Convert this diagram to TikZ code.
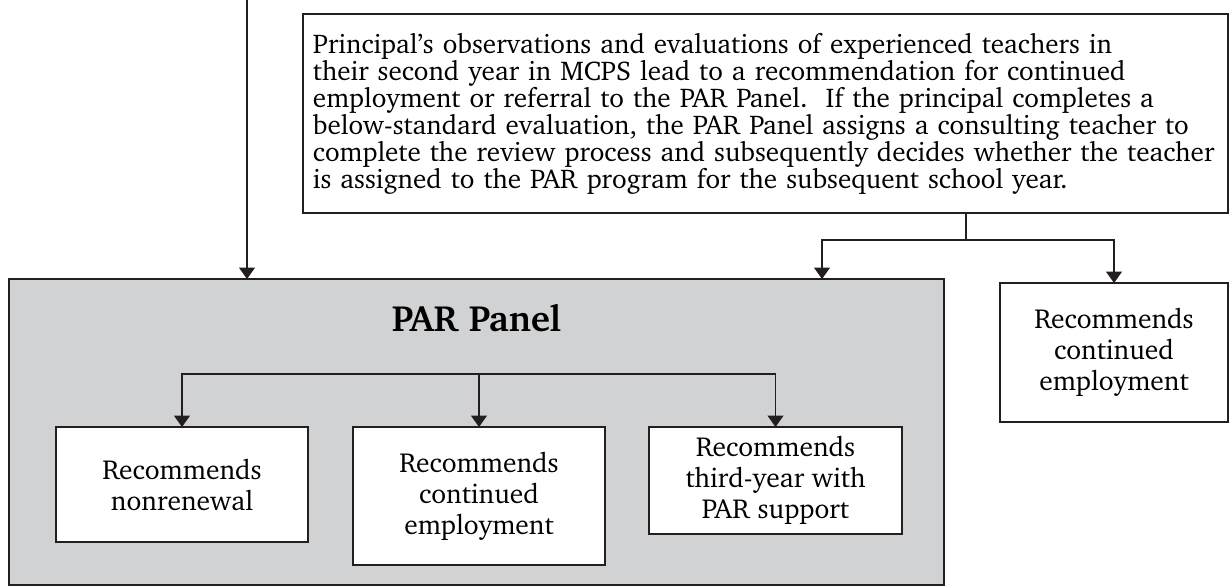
\documentclass[tikz,border=0pt]{standalone}
\usepackage[T1]{fontenc}
\usepackage{charter}
\usetikzlibrary{arrows.meta,positioning}
\definecolor{panelgray}{HTML}{D1D2D4}
\definecolor{ink}{HTML}{231F20}

\begin{document}
\begin{tikzpicture}
[x=0.4pt,y=-0.4pt,line width=0.6pt,draw=ink,
arr/.style = {-{Triangle[width=6.4pt,length=4.6pt]}},
box/.style = {draw, fill = white, inner sep = 0pt, outer sep = 0pt, align = center,
  font = \fontsize{11}{12.4}\selectfont},
]
\useasboundingbox (0,0) rectangle (1230,586);
\node (note) at (765.5,113.5)[draw, inner xsep = 4pt, inner ysep = 0pt, outer sep = 0pt,
  text width = 362pt, minimum height = 79.6pt, align = left,
  font = \fontsize{10.85}{10.8}\selectfont]
  {Principal's observations and evaluations of experienced teachers in\\
   their second year in MCPS lead to a recommendation for continued\\
   employment or referral to the PAR Panel.\ \ If the principal completes a\\
   below-standard evaluation, the PAR Panel assigns a consulting teacher to\\
   complete the review process and subsequently decides whether the teacher\\
   is assigned to the PAR program for the subsequent school year.};
\node (panel) at (476.5,432)[draw, fill = panelgray, inner sep = 0pt, outer sep = 0pt,
  minimum width = 374pt, minimum height = 122.4pt] {};
\node (title) at (476.5,318) {\fontsize{14.6}{17}\selectfont\bfseries PAR Panel};
\node (recA) at (182,484.5)[box, minimum width = 100.8pt, minimum height = 46pt]
  {Recommends\\nonrenewal};
\node (recB) at (479,496)[box, minimum width = 100.8pt, minimum height = 55.2pt]
  {Recommends\\continued\\employment};
\node (recC) at (775.5,480.5)[box, minimum width = 101.2pt, minimum height = 42.8pt]
  {Recommends\\third-year with\\PAR support};
\node (recR) at (1114,352.5)[box, minimum width = 91.2pt, minimum height = 55.6pt]
  {Recommends\\continued\\employment};
\coordinate (topin) at (247,0);
\coordinate (split) at (966,240);
\coordinate (bl) at (822,0);
\coordinate (fork) at (479,374);
\draw[arr] (topin) -- (topin |- panel.north);
\draw (split |- note.south) -- (split);
\draw[arr] (split) -| (bl |- panel.north);
\draw[arr] (split) -| (recR.north);
\draw[arr] (fork) -| (recA.north);
\draw[arr] (fork) -- (recB.north);
\draw[arr] (fork) -| (recC.north);
\end{tikzpicture}
\end{document}
